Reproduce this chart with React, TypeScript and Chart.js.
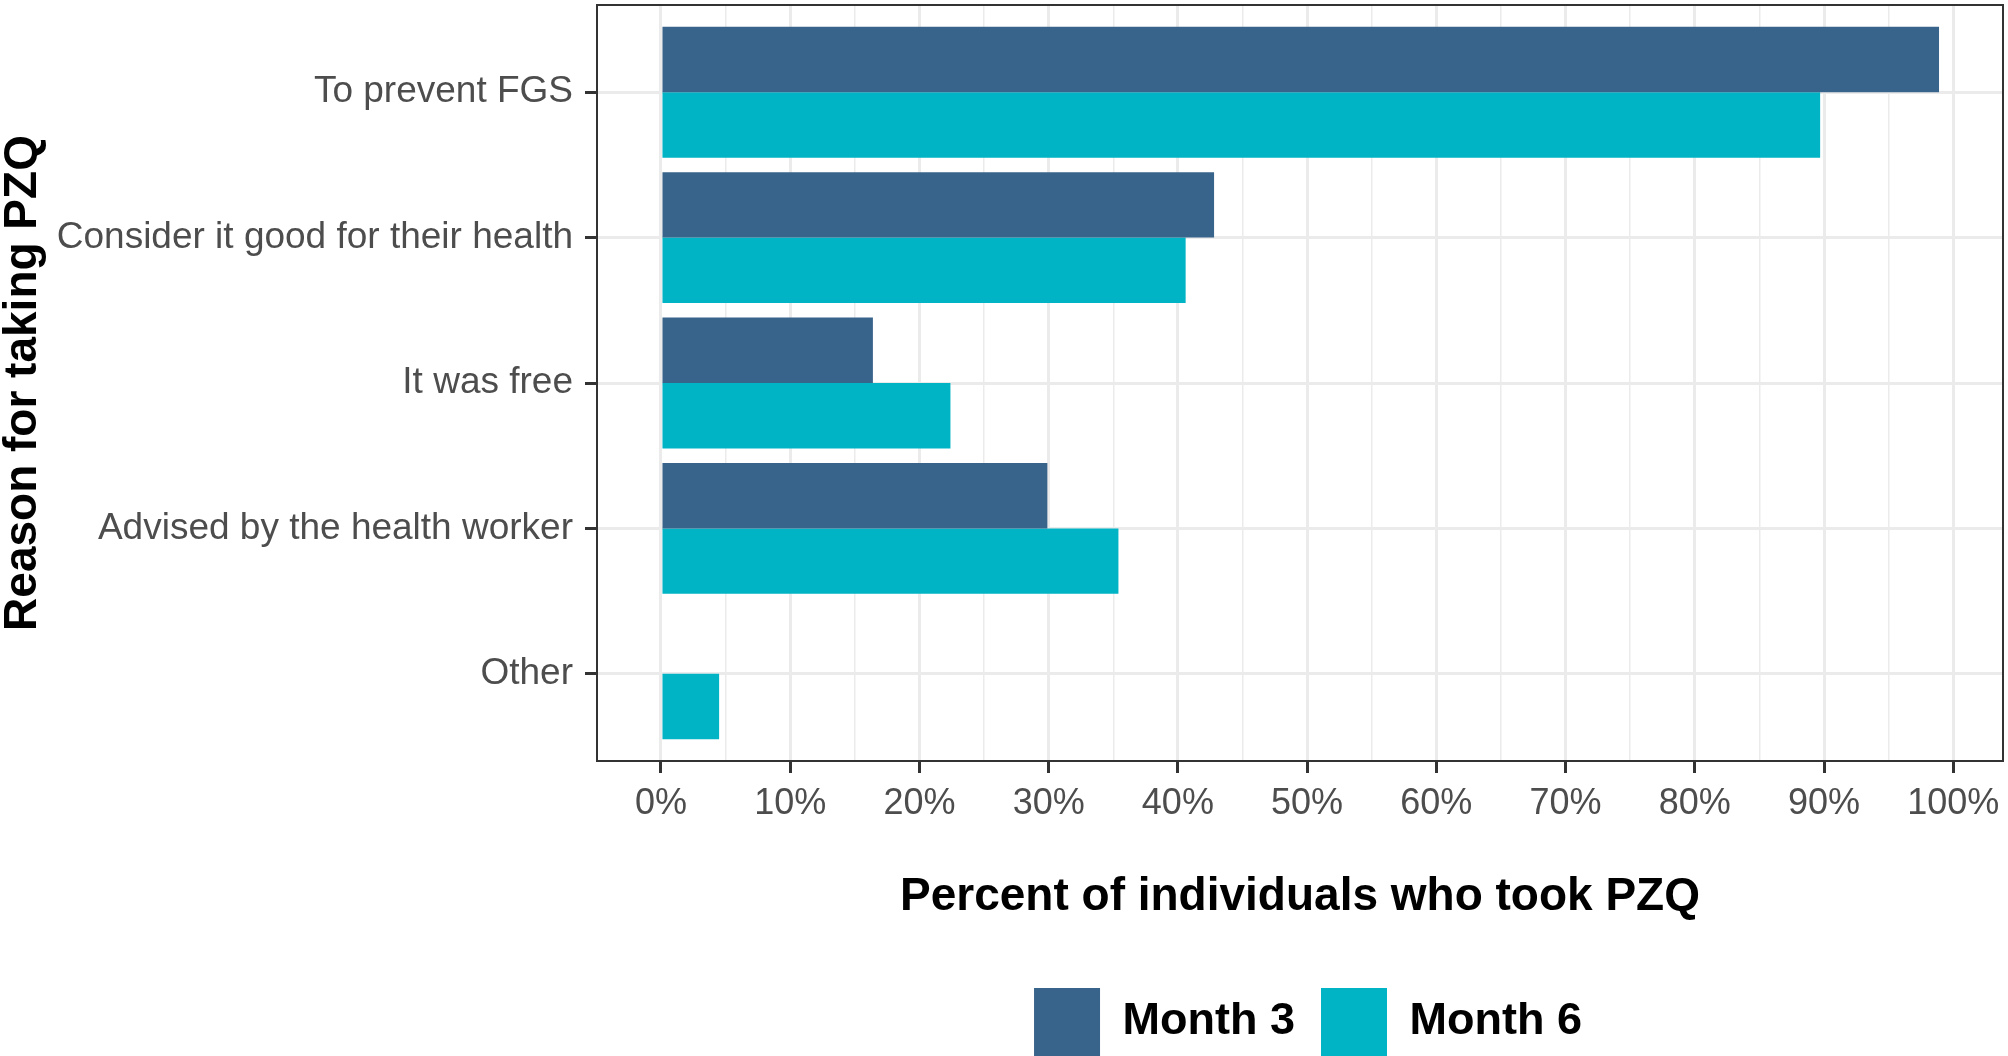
import { useEffect, useRef } from 'react';
import { Chart, registerables, type ChartConfiguration, type Plugin } from 'chart.js';

Chart.register(...registerables);

// reasons, top to bottom
const reasons = [
  'To prevent FGS',
  'Consider it good for their health',
  'It was free',
  'Advised by the health worker',
  'Other',
];
const month3: (number | null)[] = [98.9, 42.8, 16.4, 29.9, null];
const month6: (number | null)[] = [89.7, 40.6, 22.4, 35.4, 4.5];

const xMajor = [0, 10, 20, 30, 40, 50, 60, 70, 80, 90, 100];
const xMinor = [5, 15, 25, 35, 45, 55, 65, 75, 85, 95];

const FONT = "'Liberation Sans', Arial, sans-serif";
const DARK = '#38638A';
const CYAN = '#00B3C5';

// full panel border, drawn over the bars like ggplot's theme_bw
const panelBorder: Plugin = {
  id: 'panelBorder',
  afterDatasetsDraw(chart) {
    const { ctx, chartArea: a } = chart;
    ctx.save();
    ctx.strokeStyle = '#333333';
    ctx.lineWidth = 2;
    ctx.strokeRect(a.left, a.top, a.right - a.left, a.bottom - a.top);
    ctx.restore();
  },
};

// centre the legend under the panel instead of the canvas
const legendUnderPanel: Plugin = {
  id: 'legendUnderPanel',
  afterLayout(chart) {
    const l: any = chart.legend;
    const a = chart.chartArea;
    if (!l) return;
    l.left = a.left + 8;
    l.right = a.right + 8;
    l.top += 10;
    l.bottom += 10;
  },
};

export default function App() {
  const canvasRef = useRef<HTMLCanvasElement>(null);
  const chartRef = useRef<Chart | null>(null);

  useEffect(() => {
    document.body.style.margin = '0';
    if (!canvasRef.current) return;
    if (chartRef.current) chartRef.current.destroy();

    const config: ChartConfiguration<'bar'> = {
      type: 'bar',
      data: {
        datasets: [
          {
            label: 'Month 3',
            data: month3.map((v, i) => ({ x: v, y: i })) as any,
            backgroundColor: DARK,
            borderWidth: 0,
            barPercentage: 1,
            categoryPercentage: 0.9,
          },
          {
            label: 'Month 6',
            data: month6.map((v, i) => ({ x: v, y: i })) as any,
            backgroundColor: CYAN,
            borderWidth: 0,
            barPercentage: 1,
            categoryPercentage: 0.9,
          },
        ],
      },
      options: {
        indexAxis: 'y',
        animation: false,
        responsive: true,
        maintainAspectRatio: false,
        layout: { padding: { top: 5, right: 5, left: 0, bottom: 0 } },
        plugins: {
          tooltip: { enabled: false },
          legend: {
            display: true,
            position: 'bottom',
            labels: {
              boxWidth: 66,
              boxHeight: 68,
              padding: 26,
              color: '#000000',
              font: { family: FONT, size: 45, weight: 'bold' },
            },
          },
        },
        scales: {
          x: {
            type: 'linear',
            min: -4.95,
            max: 103.85,
            offset: false,
            afterBuildTicks: (scale) => {
              scale.ticks = [...xMajor, ...xMinor]
                .sort((a, b) => a - b)
                .map((value) => ({ value }));
            },
            afterFit: (scale: any) => {
              scale.height = 191;
              scale.paddingLeft = 0;
              scale.paddingRight = 0;
            },
            border: { display: false },
            grid: {
              offset: false,
              color: '#EBEBEB',
              lineWidth: (ctx: any) => (xMajor.includes(ctx.tick?.value) ? 3 : 1.5),
              drawTicks: true,
              tickLength: 12,
              tickWidth: 3,
              tickColor: (ctx: any) =>
                xMajor.includes(ctx.tick?.value) ? '#333333' : 'rgba(0,0,0,0)',
            },
            ticks: {
              autoSkip: false,
              maxRotation: 0,
              padding: 9,
              color: '#4D4D4D',
              font: { family: FONT, size: 36 },
              callback: (value) => (xMajor.includes(Number(value)) ? `${value}%` : ''),
            },
            title: {
              display: true,
              text: 'Percent of individuals who took PZQ',
              color: '#000000',
              font: { family: FONT, size: 46, weight: 'bold', lineHeight: 1.2 },
              padding: { top: 0, bottom: 27 },
            },
          },
          y: {
            type: 'linear',
            reverse: true,
            min: -0.6,
            max: reasons.length - 0.4,
            offset: false,
            afterBuildTicks: (scale) => {
              scale.ticks = reasons.map((_, i) => ({ value: i }));
            },
            afterFit: (scale: any) => {
              scale.width = 597;
              scale.paddingTop = 0;
              scale.paddingBottom = 0;
            },
            border: { display: false },
            grid: {
              offset: false,
              color: '#EBEBEB',
              lineWidth: 3,
              drawTicks: true,
              tickLength: 12,
              tickWidth: 3,
              tickColor: '#333333',
            },
            ticks: {
              autoSkip: false,
              padding: 12,
              color: '#4D4D4D',
              font: { family: FONT, size: 37 },
              callback: (value) => reasons[Number(value)] ?? '',
            },
            title: {
              display: true,
              text: 'Reason for taking PZQ',
              color: '#000000',
              font: { family: FONT, size: 46, weight: 'bold', lineHeight: 1 },
              padding: { top: 0, bottom: 0 },
            },
          },
        },
      },
      plugins: [panelBorder, legendUnderPanel],
    };

    chartRef.current = new Chart(canvasRef.current, config);

    return () => {
      if (chartRef.current) {
        chartRef.current.destroy();
        chartRef.current = null;
      }
    };
  }, []);

  return (
    <div style={{ width: '2008px', height: '1056px', position: 'relative' }}>
      <canvas ref={canvasRef} />
    </div>
  );
}
